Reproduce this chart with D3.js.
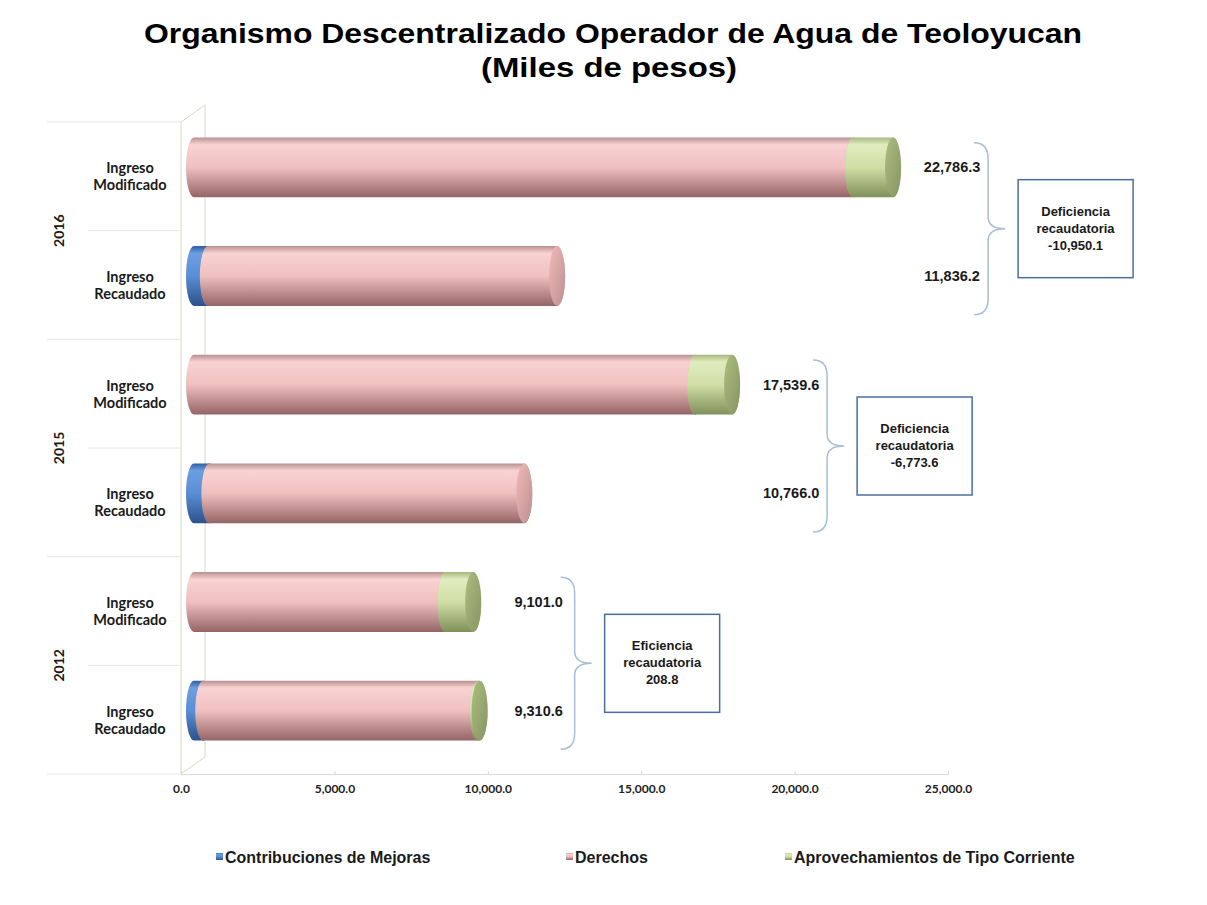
<!DOCTYPE html>
<html>
<head>
<meta charset="utf-8">
<script src="https://cdn.jsdelivr.net/npm/d3@7"></script>
<style>
  body { margin: 0; background: #fff; }
  svg { display: block; }
</style>
</head>
<body>
<div class="chart"></div>
<script>
// data (miles de pesos)
const years = ['2016', '2015', '2012'];
const rowLabels = ['Ingreso Modificado', 'Ingreso Recaudado'];
const contribuciones = [0, 450, 0, 500, 0, 300];
const derechos = [21486.3, 11386.2, 16339.6, 10266.0, 8200.0, 8950.6];
const aprovechamientos = [1300, 0, 1200, 0, 901, 60];
const totals = [22786.3, 11836.2, 17539.6, 10766.0, 9101.0, 9310.6];
const diffTitle = ['Deficiencia', 'Deficiencia', 'Eficiencia'];
const diffValue = ['-10,950.1', '-6,773.6', '208.8'];
const xTicks = [0, 5000, 10000, 15000, 20000, 25000];
const seriesNames = ['Contribuciones de Mejoras', 'Derechos', 'Aprovechamientos de Tipo Corriente'];

const width = 1207, height = 905;
const keys = ['contribuciones', 'derechos', 'aprovechamientos'];

// one row per bar, top to bottom
const table = [];
years.forEach((yr, gi) => {
  rowLabels.forEach((lab, ri) => {
    const i = gi * 2 + ri;
    table.push({
      id: yr + '|' + lab,
      year: yr,
      label: lab,
      total: totals[i],
      contribuciones: contribuciones[i],
      derechos: derechos[i],
      aprovechamientos: aprovechamientos[i]
    });
  });
});

const svg = d3.select('.chart').append('svg')
  .attr('width', width)
  .attr('height', height);

const x = d3.scaleLinear().domain([0, 25000]).range([181, 948]);
const y = d3.scaleBand().domain(table.map(d => d.id)).range([122, 774]);
const bw = y.bandwidth();
const depthX = 24, depthY = 17;   // 3d wall offset
const barDx = 13, barDy = -9;     // bars sit half way into the depth
const ry = bw * 0.275, rx = 8;

const colors = {
  contribuciones: {stops: ['#2f5f9e', '#6c9ee0', '#5a8ed6', '#2b528a'], face: '#3f72b8'},
  derechos: {stops: ['#b99090', '#f8d2d2', '#f0c0c0', '#956565'], face: '#d9a6a6'},
  aprovechamientos: {stops: ['#a7b880', '#e0ecbf', '#cfdfa6', '#7f9058'], face: '#9aab72'}
};

// gradients for the cylinders
const defs = svg.append('defs');
keys.forEach(k => {
  const g = defs.append('linearGradient')
    .attr('id', 'grad-' + k)
    .attr('x1', 0).attr('y1', 0).attr('x2', 0).attr('y2', 1);
  const c = colors[k].stops;
  g.append('stop').attr('offset', '0%').attr('stop-color', c[0]);
  g.append('stop').attr('offset', '12%').attr('stop-color', c[1]);
  g.append('stop').attr('offset', '50%').attr('stop-color', c[2]);
  g.append('stop').attr('offset', '100%').attr('stop-color', c[3]);

  const f = defs.append('linearGradient')
    .attr('id', 'face-' + k)
    .attr('x1', 0).attr('y1', 0).attr('x2', 1).attr('y2', 1);
  f.append('stop').attr('offset', '0%').attr('stop-color', d3.color(colors[k].face).brighter(0.3));
  f.append('stop').attr('offset', '100%').attr('stop-color', d3.color(colors[k].face).darker(0.4));
});

// title (the original is a bit stretched sideways)
const title = svg.append('g')
  .style('font-family', '"Liberation Sans", Arial, sans-serif')
  .style('font-weight', 'bold')
  .style('font-size', '28px')
  .attr('text-anchor', 'middle');
title.append('text').attr('x', 613).attr('y', 43)
  .attr('textLength', 938).attr('lengthAdjust', 'spacingAndGlyphs')
  .text('Organismo Descentralizado Operador de Agua de Teoloyucan');
title.append('text').attr('x', 609).attr('y', 77)
  .attr('textLength', 256).attr('lengthAdjust', 'spacingAndGlyphs')
  .text('(Miles de pesos)');

// 3d walls
const wallColor = '#d7dac6';
const y0 = y.range()[0], y1 = y.range()[1];
svg.append('path')
  .attr('fill', 'none')
  .attr('stroke', wallColor)
  .attr('stroke-width', 1)
  .attr('d', `M${x(0)},${y1} L${x(0)},${y0} L${x(0) + depthX},${y0 - depthY} L${x(0) + depthX},${y1 - depthY} L${x(0)},${y1}`);

// category divider lines in label area
table.forEach((d, i) => {
  svg.append('line')
    .attr('x1', i % 2 === 0 ? 47 : 88)
    .attr('x2', x(0))
    .attr('y1', y(d.id)).attr('y2', y(d.id))
    .attr('stroke', '#e6e6e6');
});
svg.append('line')
  .attr('x1', 47).attr('x2', x(0))
  .attr('y1', y1).attr('y2', y1)
  .attr('stroke', '#e6e6e6');

// x axis
svg.append('g')
  .attr('transform', `translate(0,${y1})`)
  .call(d3.axisBottom(x)
    .tickValues(xTicks)
    .tickFormat(d3.format(',.1f'))
    .tickSize(-3)
    .tickPadding(10))
  .call(g => g.select('.domain').attr('stroke', '#d9d9d9'))
  .call(g => g.selectAll('.tick line').attr('stroke', '#d9d9d9'))
  .call(g => g.selectAll('.tick text')
    .style('font-family', 'Lato, sans-serif')
    .style('font-weight', 'bold')
    .style('font-size', '12px')
    .attr('fill', '#222'));

// row labels
const rowG = svg.append('g')
  .style('font-family', 'Lato, sans-serif')
  .style('font-weight', 'bold')
  .style('font-size', '14.5px')
  .attr('fill', '#1a1a1a')
  .attr('text-anchor', 'middle');
table.forEach(d => {
  const cy = y(d.id) + bw / 2;
  const parts = d.label.split(' ');
  rowG.append('text').attr('x', 130).attr('y', cy - 3).text(parts[0]);
  rowG.append('text').attr('x', 130).attr('y', cy + 14).text(parts[1]);
});

// year labels
years.forEach(yr => {
  const cy = y(yr + '|' + rowLabels[0]) + bw;
  svg.append('text')
    .attr('transform', `translate(64,${cy}) rotate(-90)`)
    .attr('text-anchor', 'middle')
    .style('font-family', 'Lato, sans-serif')
    .style('font-weight', 'bold')
    .style('font-size', '14px')
    .attr('fill', '#1a1a1a')
    .text(yr);
});

// cylinders
function cyl(xa, xb, yc) {
  return `M${xa},${yc - ry} L${xb},${yc - ry} A${rx},${ry} 0 0 1 ${xb},${yc + ry} ` +
    `L${xa},${yc + ry} A${rx},${ry} 0 0 1 ${xa},${yc - ry} Z`;
}

const stacked = d3.stack().keys(keys)(table);
const barsG = svg.append('g');
table.forEach((row, i) => {
  const yc = y(row.id) + bw / 2 + barDy;
  stacked.forEach(s => {
    const seg = s[i];
    if (seg[1] - seg[0] <= 0) return;
    const xa = x(seg[0]) + barDx, xb = x(seg[1]) + barDx;
    barsG.append('path')
      .attr('d', cyl(xa, xb, yc))
      .attr('fill', `url(#grad-${s.key})`);
    barsG.append('ellipse')
      .attr('cx', xb).attr('cy', yc)
      .attr('rx', rx).attr('ry', ry)
      .attr('fill', `url(#face-${s.key})`);
  });
});

// total labels, braces and boxes
const annG = svg.append('g')
  .style('font-family', '"Liberation Sans", Arial, sans-serif')
  .style('font-weight', 'bold')
  .attr('fill', '#1a1a1a');

years.forEach((yr, gi) => {
  const rows = table.filter(d => d.year === yr);
  const gMax = d3.max(rows, d => d.total);
  const gx = x(gMax);
  const gc = y(rows[0].id) + bw;

  rows.forEach(d => {
    annG.append('text')
      .attr('x', gx + 72)
      .attr('y', y(d.id) + bw / 2 + barDy + 5)
      .attr('text-anchor', 'middle')
      .style('font-size', '14.5px')
      .text(d3.format(',.1f')(d.total));
  });

  const bx = gx + 108, ya = gc - 88, yb = gc + 84, yt = gc - 2;
  annG.append('path')
    .attr('fill', 'none')
    .attr('stroke', '#a9bdd6')
    .attr('stroke-width', 1.5)
    .attr('d', `M${bx - 14},${ya} Q${bx},${ya} ${bx},${ya + 16} L${bx},${yt - 12} ` +
      `Q${bx},${yt} ${bx + 17},${yt} Q${bx},${yt} ${bx},${yt + 12} L${bx},${yb - 16} ` +
      `Q${bx},${yb} ${bx - 14},${yb}`);

  const boxX = gx + 138, boxW = 115, boxH = 98, boxC = gc - 2;
  annG.append('rect')
    .attr('x', boxX).attr('y', boxC - boxH / 2)
    .attr('width', boxW).attr('height', boxH)
    .attr('fill', '#fff')
    .attr('stroke', '#4a6f9f')
    .attr('stroke-width', 1.5);
  const lines = [diffTitle[gi], 'recaudatoria', diffValue[gi]];
  lines.forEach((t, li) => {
    annG.append('text')
      .attr('x', boxX + boxW / 2)
      .attr('y', boxC - 13 + li * 17)
      .attr('text-anchor', 'middle')
      .style('font-size', '13px')
      .text(t);
  });
});

// legend
const legendX = [216, 566, 785];
const legend = svg.append('g');
keys.forEach((k, i) => {
  legend.append('rect')
    .attr('x', legendX[i]).attr('y', 853)
    .attr('width', 7).attr('height', 7)
    .attr('fill', `url(#grad-${k})`);
  legend.append('text')
    .attr('x', legendX[i] + 9).attr('y', 863)
    .style('font-family', '"Liberation Sans", Arial, sans-serif')
    .style('font-weight', 'bold')
    .style('font-size', '16px')
    .attr('fill', '#1a1a1a')
    .text(seriesNames[i]);
});
</script>
</body>
</html>
